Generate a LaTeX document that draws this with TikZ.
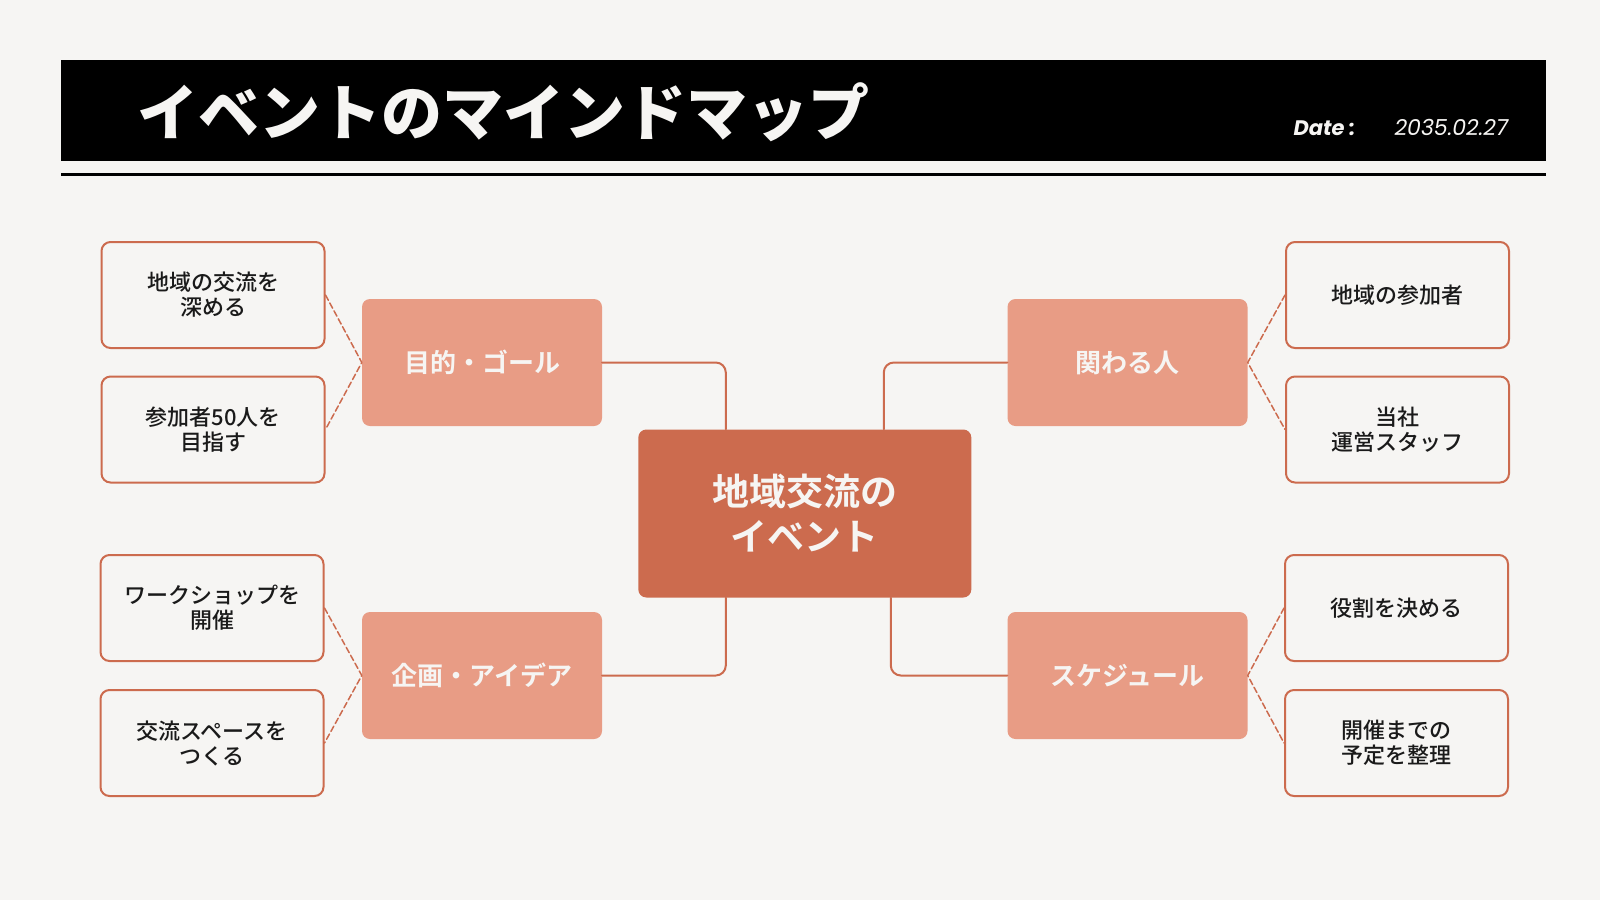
\documentclass[tikz,border=0pt]{standalone}
\usepackage{fontspec}
\setmainfont{Noto Sans CJK JP}[UprightFont={* Medium}, BoldFont={* Bold}]
\newfontfamily\heavyfont{Noto Sans CJK JP}[UprightFont={* Black}]
\newfontfamily\latinfont{Poppins}
\definecolor{paper}{HTML}{F6F5F3}
\definecolor{rust}{HTML}{CC6B4E}
\definecolor{salmon}{HTML}{E89C85}
\definecolor{ink}{HTML}{1A1A1A}
\tikzset{
  hub/.style={fill=rust, rounded corners=8pt, minimum width=333pt, minimum height=168pt,
    text=paper, align=center, font=\fontsize{37}{45}\selectfont\bfseries},
  topic/.style={fill=salmon, rounded corners=8pt, minimum width=240pt, minimum height=127pt,
    text=paper, font=\fontsize{26}{30}\selectfont\bfseries},
  leaf/.style={draw=rust, line width=2pt, fill=paper, rounded corners=9pt, minimum width=223pt,
    minimum height=106pt, text=ink, align=center, font=\fontsize{22}{25}\selectfont},
  link/.style={draw=rust, line width=2pt, rounded corners=10pt},
  dashlink/.style={draw=rust, line width=1.5pt, dash pattern=on 6pt off 3pt}
}
\begin{document}
\begin{tikzpicture}[x=1pt,y=-1pt, line join=round, line cap=round]
  \fill[paper] (0,0) rectangle (1600,900);
  \useasboundingbox (0,0) rectangle (1600,900);
  % header
  \fill[black] (61,60) rectangle (1546,160.5);
  \draw[black, line width=3pt, line cap=butt] (61,174) -- (1546,174);
  \node[anchor=west, text=paper, font=\heavyfont\fontsize{61}{66}\selectfont] (title) at (134,112) {イベントのマインドマップ};
  \node[anchor=west, text=paper, font=\latinfont\fontsize{21}{24}\selectfont\bfseries\itshape] (datelbl) at (1290,128) {Date :};
  \node[anchor=west, text=paper, font=\latinfont\fontsize{22}{24}\selectfont\itshape] (dateval) at (1391,127) {2035.02.27};

  % center and topics
  \node[hub] (event) at (804.8,513.5) {地域交流の\\イベント};
  \node[topic] (goal) at (482,362.5) {目的・ゴール};
  \node[topic] (people) at (1127.5,362.5) {関わる人};
  \node[topic] (idea) at (482,675.5) {企画・アイデア};
  \node[topic] (sched) at (1127.5,675.5) {スケジュール};

  % leaves
  \node[leaf] (g1) at (213,295) {地域の交流を\\深める};
  \node[leaf] (g2) at (213,429.5) {参加者50人を\\目指す};
  \node[leaf] (i1) at (212,608) {ワークショップを\\開催};
  \node[leaf] (i2) at (212,743) {交流スペースを\\つくる};
  \node[leaf] (p1) at (1397.5,295) {地域の参加者};
  \node[leaf] (p2) at (1397.5,429.5) {当社\\運営スタッフ};
  \node[leaf] (s1) at (1396.5,608) {役割を決める};
  \node[leaf] (s2) at (1396.5,743) {開催までの\\予定を整理};

  % connectors
  \draw[link] (goal.east) -| ([xshift=-79pt]event.north);
  \draw[link] (people.west) -| ([xshift=79pt]event.north);
  \draw[link] (idea.east) -| ([xshift=-79pt]event.south);
  \draw[link] (sched.west) -| ([xshift=86pt]event.south);
  \draw[dashlink] (g1.east) -- (goal.west) -- (g2.east);
  \draw[dashlink] (i1.east) -- (idea.west) -- (i2.east);
  \draw[dashlink] (p1.west) -- (people.east) -- (p2.west);
  \draw[dashlink] (s1.west) -- (sched.east) -- (s2.west);
\end{tikzpicture}
\end{document}
